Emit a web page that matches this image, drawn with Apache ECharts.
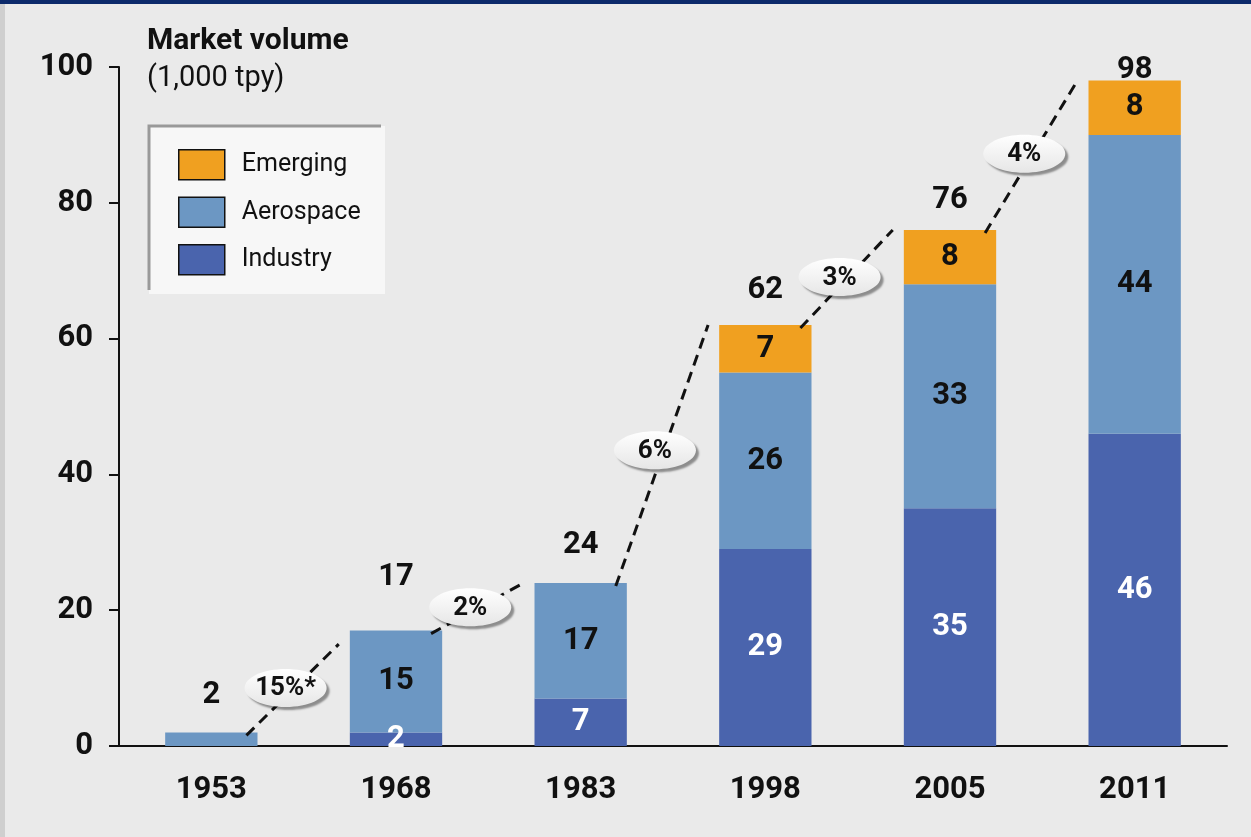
<!DOCTYPE html>
<html>
<head>
<meta charset="utf-8">
<script src="https://cdn.jsdelivr.net/npm/echarts@6/dist/echarts.min.js"></script>
<style>
  html, body { margin: 0; padding: 0; background: #eaeaea; }
  #chart { width: 1251px; height: 837px; }
</style>
</head>
<body>
<div id="chart"></div>
<script>
// data
const years = ['1953', '1968', '1983', '1998', '2005', '2011'];
const industry = [null, 2, 7, 29, 35, 46];
const aerospace = [2, 15, 17, 26, 33, 44];
const emerging = [null, null, null, 7, 8, 8];
const totals = [2, 17, 24, 62, 76, 98];
const cagrLabels = ['15%*', '2%', '6%', '3%', '4%'];
const cagrLineEnd = [15, 24, 62, 76, 98];
const yTicks = [0, 20, 40, 60, 80, 100];

const FONT = 'Roboto';
const chart = echarts.init(document.getElementById('chart'));

// gap (px) between bar top and the centre of its total label
const totalGap = [37, 53, 38, 35, 30, 10];

function segLabel(color) {
  return {
    show: true,
    position: 'inside',
    color: color,
    fontFamily: FONT,
    fontWeight: 'bold',
    fontSize: 31,
    formatter: function (p) {
      return p.value === totals[p.dataIndex] ? '' : p.value;
    }
  };
}

const option = {
  backgroundColor: '#eaeaea',
  animation: false,
  textStyle: { fontFamily: FONT },
  title: {
    text: 'Market volume',
    subtext: '(1,000 tpy)',
    left: 147,
    top: 26,
    itemGap: 8,
    padding: 0,
    textStyle: { fontFamily: FONT, fontWeight: 'bold', fontSize: 30, color: '#111' },
    subtextStyle: { fontFamily: FONT, fontWeight: 'normal', fontSize: 29, color: '#111' }
  },
  graphic: [
    { type: 'rect', shape: { x: 0, y: 0, width: 1251, height: 4 }, style: { fill: '#0c2a6b' }, z: 100 },
    { type: 'rect', shape: { x: 0, y: 0, width: 5, height: 837 }, style: { fill: '#cfcfcf' }, z: 99 },
    { type: 'rect', shape: { x: 149, y: 126, width: 236, height: 168 }, style: { fill: '#f7f7f7' }, z: 0 },
    { type: 'polyline', shape: { points: [[149, 290], [149, 126], [381, 126]] }, style: { stroke: '#999', lineWidth: 3, fill: null }, z: 1 }
  ],
  legend: {
    orient: 'vertical',
    left: 178,
    top: 149,
    padding: 0,
    icon: 'rect',
    itemWidth: 46,
    itemHeight: 30,
    itemGap: 16,
    data: ['Emerging', 'Aerospace', 'Industry'],
    itemStyle: { borderColor: '#111', borderWidth: 1.5 },
    textStyle: { fontFamily: FONT, fontSize: 25, color: '#111', padding: [5, 0, 0, 12] }
  },
  grid: { left: 119, right: 24, top: 67, bottom: 91 },
  xAxis: {
    type: 'category',
    data: years,
    axisTick: { show: false },
    axisLine: { lineStyle: { color: '#111', width: 2 } },
    axisLabel: { color: '#111', fontFamily: FONT, fontWeight: 'bold', fontSize: 31, margin: 29 }
  },
  yAxis: {
    type: 'value',
    min: yTicks[0],
    max: yTicks[yTicks.length - 1],
    interval: 20,
    splitLine: { show: false },
    axisLine: { show: true, lineStyle: { color: '#111', width: 2 } },
    axisTick: { show: true, length: 10, lineStyle: { color: '#111', width: 2 } },
    axisLabel: { color: '#111', fontFamily: FONT, fontWeight: 'bold', fontSize: 31, margin: 26 }
  },
  series: [
    {
      name: 'Industry', type: 'bar', stack: 'vol', barWidth: '50%',
      data: industry,
      itemStyle: { color: '#4a64ad' },
      label: segLabel('#ffffff')
    },
    {
      name: 'Aerospace', type: 'bar', stack: 'vol',
      data: aerospace,
      itemStyle: { color: '#6c97c3' },
      label: segLabel('#111')
    },
    {
      name: 'Emerging', type: 'bar', stack: 'vol',
      data: emerging,
      itemStyle: { color: '#f0a020' },
      label: segLabel('#111')
    },
    {
      name: 'total', type: 'custom', clip: false, z: 5,
      data: totals.map(function (t, i) { return [i, t]; }),
      renderItem: function (params, api) {
        const p = api.coord([api.value(0), api.value(1)]);
        return {
          type: 'text',
          style: {
            text: String(totals[params.dataIndex]),
            x: p[0], y: p[1] - totalGap[params.dataIndex],
            align: 'center', verticalAlign: 'middle',
            fontFamily: FONT, fontWeight: 'bold', fontSize: 31, fill: '#111'
          }
        };
      }
    },
    {
      name: 'cagr', type: 'custom', clip: false, z: 6,
      data: cagrLabels.map(function (l, i) { return [i, totals[i], cagrLineEnd[i]]; }),
      renderItem: function (params, api) {
        const i = api.value(0);
        const p0 = api.coord([i, api.value(1)]);
        const p1 = api.coord([i + 1, api.value(2)]);
        const band = api.size([1, 0])[0];
        const x0 = p0[0] + band * 0.19, y0 = p0[1] + 3;
        const x1 = p1[0] - band * 0.31, y1 = p1[1];
        const cx = (x0 + x1) / 2 - 7, cy = y0 + (y1 - y0) * 0.52;
        return {
          type: 'group',
          children: [
            {
              type: 'line',
              shape: { x1: x0, y1: y0, x2: x1, y2: y1 },
              style: { stroke: '#111', lineWidth: 3, lineDash: [11, 7] }
            },
            {
              type: 'ellipse',
              shape: { cx: cx, cy: cy, rx: 41, ry: 19 },
              style: {
                fill: {
                  type: 'linear', x: 0, y: 0, x2: 0, y2: 1,
                  colorStops: [{ offset: 0, color: '#ffffff' }, { offset: 1, color: '#e6e6e6' }]
                },
                shadowColor: 'rgba(0,0,0,0.4)', shadowOffsetX: 3, shadowOffsetY: 3, shadowBlur: 2
              }
            },
            {
              type: 'text',
              style: {
                text: cagrLabels[params.dataIndex],
                x: cx, y: cy + 1,
                align: 'center', verticalAlign: 'middle',
                fontFamily: FONT, fontWeight: 'bold', fontSize: 26, fill: '#111'
              }
            }
          ]
        };
      }
    }
  ]
};

chart.setOption(option);
</script>
</body>
</html>
